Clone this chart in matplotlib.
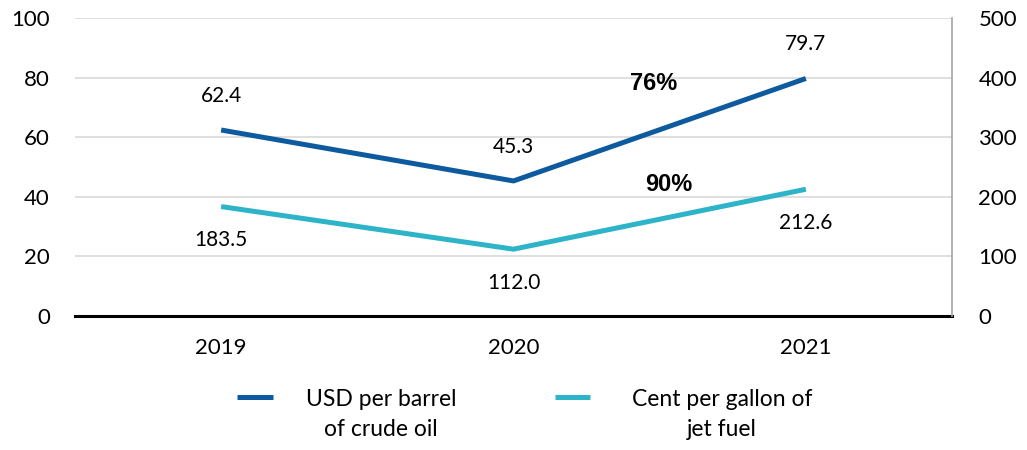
import matplotlib.pyplot as plt
from matplotlib.lines import Line2D

# Data
years = ["2019", "2020", "2021"]
crude_usd = [62.4, 45.3, 79.7]        # USD per barrel (left axis)
jet_cents = [183.5, 112.0, 212.6]     # cents per gallon (right axis)
crude_change = "76%"
jet_change = "90%"
series_names = ["USD per barrel\nof crude oil", "Cent per gallon of\njet fuel"]

blue = "#0E5A9E"
teal = "#2DB4C8"
font = "Lato"

fig = plt.figure(figsize=(10.27, 4.5), dpi=100)
ax = fig.add_axes([0.073, 0.298, 0.854, 0.662])
ax2 = ax.twinx()

x = list(range(len(years)))
ax.plot(x, crude_usd, color=blue, lw=3.6, solid_capstyle="butt", zorder=3)
ax2.plot(x, jet_cents, color=teal, lw=3.6, solid_capstyle="butt", zorder=3)

ax.set_xlim(-0.5, 2.5)
ax.set_ylim(0, 100)
ax2.set_ylim(0, 500)
ax.set_yticks(range(0, 101, 20))
ax2.set_yticks(range(0, 501, 100))
ax.set_xticks(x)
ax.set_xticklabels(years)

# gridlines and frame
ax.grid(axis="y", color="#D9D9D9", lw=1.2)
ax.set_axisbelow(True)
for a in (ax, ax2):
    for side in ("top", "left", "right", "bottom"):
        a.spines[side].set_visible(False)
ax2.spines["right"].set_visible(True)
ax2.spines["right"].set_color("#A6A6A6")
ax2.spines["right"].set_linewidth(1.2)
ax.axhline(0, color="black", lw=2.2, zorder=4, clip_on=False)

ax.tick_params(axis="y", length=0, labelsize=16, pad=18)
ax2.tick_params(axis="y", length=0, labelsize=16, pad=19)
ax.tick_params(axis="x", length=0, labelsize=16, pad=16)
for lbl in ax.get_xticklabels() + ax.get_yticklabels() + ax2.get_yticklabels():
    lbl.set_fontfamily(font)

# value labels
for xi, v in zip(x, crude_usd):
    ax.annotate(f"{v:.1f}", (xi, v), xytext=(0, 24.5), textcoords="offset points",
                ha="center", va="center", fontsize=15, family=font)
for xi, v in zip(x, jet_cents):
    ax2.annotate(f"{v:.1f}", (xi, v), xytext=(0, -24), textcoords="offset points",
                 ha="center", va="center", fontsize=15, family=font)
ax.text(1.48, 78, crude_change, ha="center", va="center",
        fontsize=17, fontweight="bold", family="Liberation Sans")
ax.text(1.53, 44, jet_change, ha="center", va="center",
        fontsize=17, fontweight="bold", family="Liberation Sans")

# legend below the axis: handle sits level with the first text line
legend_items = [(blue, series_names[0], 0.2308, 0.2658, 0.371),
                (teal, series_names[1], 0.5404, 0.5745, 0.703)]
for color, name, x0, x1, xt in legend_items:
    fig.add_artist(Line2D([x0, x1], [0.118, 0.118], color=color, lw=3.6,
                          solid_capstyle="butt", transform=fig.transFigure))
    fig.text(xt, 0.079, name, ha="center", va="center", multialignment="center",
             fontsize=16.5, family=font, linespacing=1.55)

fig.savefig("out.png", dpi=100)
